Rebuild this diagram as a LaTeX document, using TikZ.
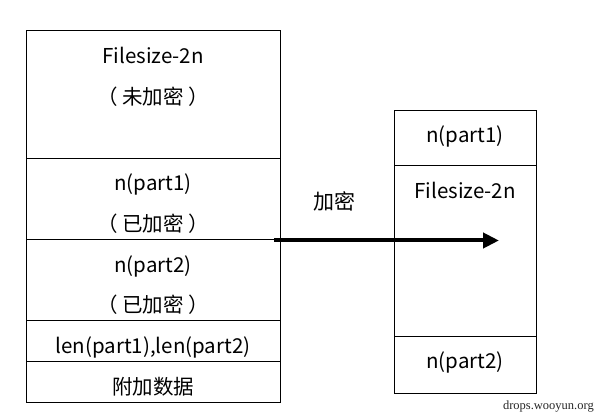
\documentclass[tikz,border=0pt]{standalone}
\usepackage{fontspec}
\setmainfont{Noto Sans CJK SC}
\newfontfamily\wmfont{Liberation Serif}
\usetikzlibrary{arrows.meta}
\begin{document}
\begin{tikzpicture}[x=1pt,y=-1pt,
  cell/.style={draw=black,line width=0.9pt,inner sep=0pt,anchor=north west},
  lbl/.style={inner sep=0pt,font=\fontsize{20.5}{24}\selectfont},
  arrowlbl/.style={inner sep=0pt,font=\fontsize{21}{24}\selectfont},
  wm/.style={inner sep=0pt,font=\wmfont\fontsize{12.5}{14}\selectfont,text=black!85}]
\useasboundingbox (0,0) rectangle (596,419);
% left column cells
\node[cell,minimum width=254pt,minimum height=128pt] (l1) at (26,30) {};
\node[cell,minimum width=254pt,minimum height=81pt] (l2) at (26,158) {};
\node[cell,minimum width=254pt,minimum height=81pt] (l3) at (26,239) {};
\node[cell,minimum width=254pt,minimum height=41pt] (l4) at (26,320) {};
\node[cell,minimum width=254pt,minimum height=41pt] (l5) at (26,361) {};
% right column cells
\node[cell,minimum width=142pt,minimum height=55pt] (r1) at (394,110) {};
\node[cell,minimum width=142pt,minimum height=171pt] (r2) at (394,165) {};
\node[cell,minimum width=142pt,minimum height=57pt] (r3) at (394,336) {};
% texts left
\node[lbl] (t1) at (153,55) {Filesize-2n};
\node[lbl] (t2) at (153,97) {（ 未加密 ）};
\node[lbl] (t3) at (153,184) {n(part1)};
\node[lbl] (t4) at (153,224) {（ 已加密 ）};
\node[lbl] (t5) at (153,266) {n(part2)};
\node[lbl] (t6) at (153,305) {（ 已加密 ）};
\node[lbl] (t7) at (153,347) {len(part1),len(part2)};
\node[lbl] (t8) at (153,387) {附加数据};
% texts right
\node[lbl] (u1) at (465,136) {n(part1)};
\node[lbl] (u2) at (465,190) {Filesize-2n};
\node[lbl] (u3) at (465,362) {n(part2)};
% arrow
\coordinate (as) at (274,240.5);
\coordinate (ae) at (499,240.5);
\draw[line width=4pt,-{Triangle[length=16pt,width=15pt]}] (as) -- (ae);
\node[arrowlbl] (al) at (334,201) {加密};
% watermark
\node[wm,anchor=east] (w) at (594,407) {drops.wooyun.org};
\end{tikzpicture}
\end{document}
